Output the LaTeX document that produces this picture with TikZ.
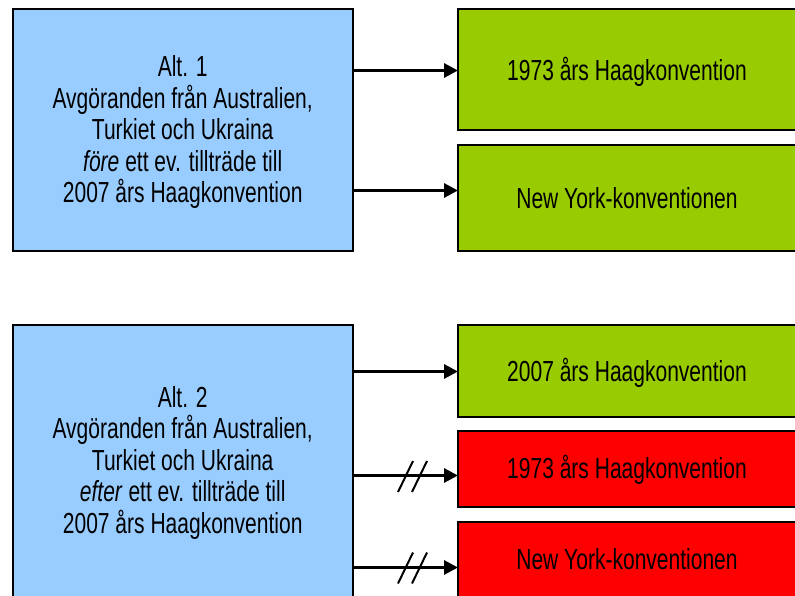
\documentclass[tikz,border=0pt]{standalone}
\usepackage{fontspec}
\setmainfont[FakeStretch=0.725]{Liberation Sans}
\usetikzlibrary{arrows.meta}

\definecolor{altblue}{HTML}{99CCFF}
\definecolor{okgreen}{HTML}{99CC00}
\definecolor{nored}{HTML}{FF0000}

\tikzset{
  box/.style={draw=black, line width=2pt, rectangle, inner sep=0pt,
    align=center, font=\fontsize{29}{31.5}\selectfont},
  altbox/.style={box, fill=altblue, minimum width=340pt},
  targetbox/.style={box, minimum width=341pt},
  boxtext/.style={box, draw=none, fill=none},
  link/.style={line width=3pt,
    -{Triangle[length=14pt,width=14pt]}, shorten >=-1pt},
  cut/.style={line width=2pt}
}

\begin{document}
\begin{tikzpicture}[x=1pt, y=-1pt]
  \clip (0,0) rectangle (795,596);
  \fill[white] (0,0) rectangle (795,596);

  % Alternative 1
  \node[altbox, minimum height=242pt] (alt1) at (182.7,130) {};
  \node[boxtext] (alt1txt) at (182.7,132.4)
    {Alt. 1\\Avgöranden från Australien,\\Turkiet och Ukraina\\
     \textit{före} ett ev. tillträde till\\2007 års Haagkonvention};
  \node[targetbox, fill=okgreen, minimum height=121pt] (g1) at (628.5,69.7) {};
  \node[boxtext] (g1txt) at (627,71.5) {1973 års Haagkonvention};
  \node[targetbox, fill=okgreen, minimum height=106pt] (g2) at (628.5,198) {};
  \node[boxtext] (g2txt) at (627,198.5) {New York-konventionen};

  \draw[link] (alt1.east |- 0,70.5) -- (g1.west |- 0,70.5);
  \draw[link] (alt1.east |- 0,190.5) -- (g2.west |- 0,190.5);

  % Alternative 2
  \node[altbox, minimum height=275pt] (alt2) at (182.7,462.5)
    {Alt. 2\\Avgöranden från Australien,\\Turkiet och Ukraina\\
     \textit{efter} ett ev. tillträde till\\2007 års Haagkonvention};
  \node[targetbox, fill=okgreen, minimum height=91.7pt] (g3) at (628.5,370.9) {};
  \node[boxtext] (g3txt) at (627,372.5) {2007 års Haagkonvention};
  \node[targetbox, fill=nored, minimum height=75.7pt] (r4) at (628.5,468.9) {};
  \node[boxtext] (r4txt) at (627,470) {1973 års Haagkonvention};
  \node[targetbox, fill=nored, minimum height=78.3pt] (r5) at (628.5,560.9) {};
  \node[boxtext] (r5txt) at (627,559.5) {New York-konventionen};

  \draw[link] (alt2.east |- 0,371.5) -- (g3.west |- 0,371.5);
  \draw[link] (alt2.east |- 0,475.5) -- (r4.west |- 0,475.5);
  \draw[link] (alt2.east |- 0,567.5) -- (r5.west |- 0,567.5);

  % break marks on the cut links
  \draw[cut] (398,492) -- (413,461) (412,492) -- (427,461);
  \draw[cut] (398,583.5) -- (413,552.5) (412,583.5) -- (427,552.5);
\end{tikzpicture}
\end{document}
